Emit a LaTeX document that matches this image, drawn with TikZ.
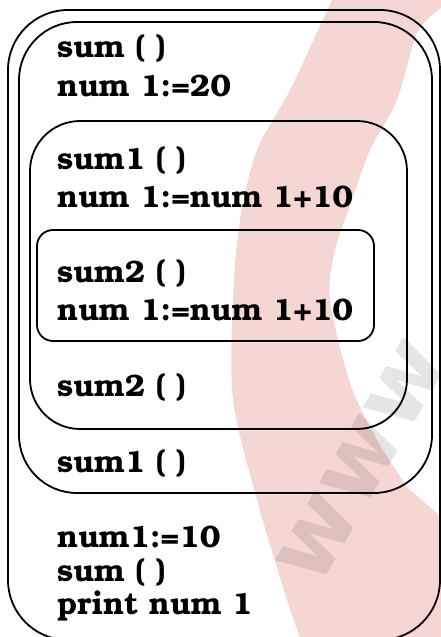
\documentclass[tikz,border=0pt]{standalone}
\usepackage{fontspec}
\setmainfont{TeX Gyre Bonum}
\newfontfamily\wmfont{DejaVu Sans}
\definecolor{bandpink}{RGB}{244,214,210}
\begin{document}
\begin{tikzpicture}[x=1pt,y=-1pt,
  frame/.style={draw=black,line width=1.8pt},
  code/.style={anchor=base west,inner sep=0pt,
    font=\fontsize{31}{31}\selectfont\bfseries}]
\useasboundingbox (0,0) rectangle (441,637);
% pale swoosh behind everything
\fill[bandpink]
  plot[smooth] coordinates {(332,0) (290,90) (257,150) (240,220) (233,300)
    (233,400) (257,500) (287,600) (300,637)}
  -- (441,637) -- (441,517)
  -- plot[smooth] coordinates {(407,487) (377,440) (350,383) (330,300)
    (335,250) (352,200) (370,150) (397,100) (417,33) (441,8)}
  -- (441,0) -- cycle;
\node[rotate=60,text=black,text opacity=0.1,inner sep=0pt,
  font=\wmfont\fontsize{95}{95}\selectfont\bfseries] (wm) at (362,462) {www};
% nested scopes
\draw[frame,rounded corners=60] (8,10) rectangle (440,640);
\draw[frame,rounded corners=58] (19,22) rectangle (432,493);
\draw[frame,rounded corners=50] (30,121) rectangle (407,429);
\draw[frame,rounded corners=16] (37,230) rectangle (374,341);
% program text
\node[code] (t1)  at (57,57)  {sum ( )};
\node[code] (t2)  at (57,96)  {num 1:=20};
\node[code] (t3)  at (57,169) {sum1 ( )};
\node[code] (t4)  at (57,207) {num 1:=num 1+10};
\node[code] (t5)  at (57,282) {sum2 ( )};
\node[code] (t6)  at (57,320) {num 1:=num 1+10};
\node[code] (t7)  at (57,396) {sum2 ( )};
\node[code] (t8)  at (57,472) {sum1 ( )};
\node[code] (t9)  at (57,547) {num1:=10};
\node[code] (t10) at (57,581) {sum ( )};
\node[code] (t11) at (57,614) {print num 1};
\end{tikzpicture}
\end{document}
